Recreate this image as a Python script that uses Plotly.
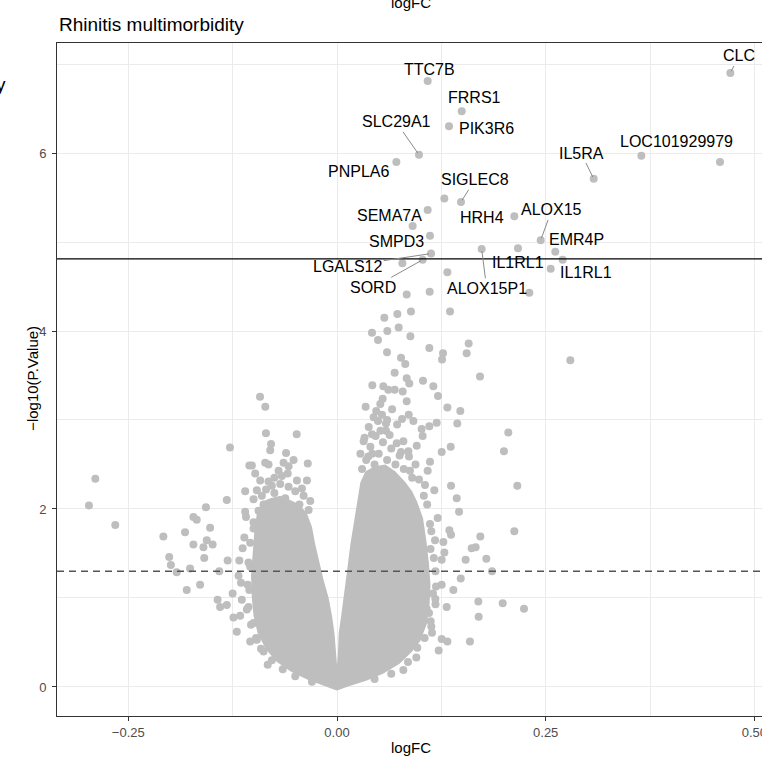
import plotly.graph_objects as go

GREY = "#BEBEBE"
FONT = "Liberation Sans, Arial, Helvetica, sans-serif"

# ---- dense core of the volcano (outline of the solid grey cloud) ----
core_logfc = [-0.080, -0.068, -0.056, -0.045, -0.036, -0.030, -0.026, -0.021, -0.016, -0.010,
              -0.006, -0.003, -0.001, 0.000, 0.001, 0.002, 0.005, 0.008, 0.012, 0.016,
              0.020, 0.024, 0.028, 0.034, 0.045, 0.058, 0.070, 0.082, 0.090,
              0.096, 0.103, 0.107, 0.110, 0.112, 0.111, 0.108, 0.100, 0.090, 0.075,
              0.055, 0.035, 0.015, 0.003, 0.000, -0.003, -0.015, -0.035, -0.055, -0.072,
              -0.085, -0.095, -0.100, -0.102, -0.103, -0.101, -0.099, -0.096, -0.090]
core_neglogp = [2.12, 2.15, 2.10, 2.05, 1.95, 1.80, 1.60, 1.40, 1.20, 1.00,
                0.80, 0.60, 0.40, 0.25, 0.35, 0.60, 0.80, 1.00, 1.30, 1.60,
                1.85, 2.10, 2.30, 2.42, 2.48, 2.50, 2.42, 2.30, 2.20,
                2.08, 1.90, 1.65, 1.40, 1.15, 0.95, 0.72, 0.52, 0.40, 0.26,
                0.15, 0.07, 0.01, -0.03, -0.04, -0.03, 0.01, 0.08, 0.17, 0.28,
                0.42, 0.60, 0.80, 1.00, 1.25, 1.50, 1.75, 1.95, 2.08]

# ---- individual (non-labelled) genes ----
bg_logfc = [
    -0.0922, -0.0859, -0.1282, -0.0851, -0.0483, -0.0790, -0.2895, -0.2971, -0.2656, -0.1570,
    -0.1320, -0.1720, -0.1680, -0.1520, -0.1820, -0.2080, -0.1560, -0.1720, -0.1490, -0.1600,
    -0.2010, -0.1590, -0.1990, -0.1920, -0.1760, -0.1310, -0.1410, -0.1800, -0.1640, -0.1250,
    -0.1430, -0.1400, -0.1320, -0.1240, -0.1160, -0.1200, -0.1040, -0.0960, -0.0830, -0.1100,
    -0.1050, -0.1020, -0.0980, -0.0920, -0.0860, -0.0820, -0.0800, -0.0610, -0.0520, -0.0640,
    -0.0580, -0.0590, -0.0700, -0.0350, -0.0360, -0.0420, -0.0320, -0.0340, -0.0580, -0.0820,
    -0.0960, -0.1000, -0.1100, -0.1090, -0.1000, -0.1110, -0.1130, -0.1170, -0.1180, -0.1150,
    -0.1050, -0.1040, -0.1080, -0.1140, -0.1000, -0.0910,
    -0.0900, -0.0850, -0.0750, -0.0680, -0.0620, -0.0500, -0.0450, -0.0400, -0.0750, -0.0880,
    -0.0940, -0.0480, -0.0660, -0.0780,
    -0.0880, -0.0780, -0.0650, -0.0500, -0.0300, -0.0970, -0.1030, -0.1060, -0.1070, -0.1060,
    -0.1040, -0.1000,
    0.0567, 0.0723, 0.0886, 0.1354, 0.0419, 0.0603, 0.0739, 0.0491, 0.0879, 0.1577,
    0.1553, 0.1106, 0.1270, 0.1258, 0.0599, 0.0767, 0.0818, 0.1713, 0.2795, 0.0691,
    0.0835, 0.0866, 0.1030, 0.1154, 0.1210, 0.0423, 0.0555, 0.0615, 0.0691, 0.0787,
    0.0547, 0.0519, 0.0835, 0.0343, 0.1322, 0.1477, 0.0439, 0.0539, 0.0859, 0.0779,
    0.0915, 0.0587, 0.1106, 0.1194, 0.1441, 0.0491, 0.0587, 0.1014, 0.1026, 0.2052,
    0.2000, 0.0319, 0.0419, 0.0463, 0.0715, 0.0795, 0.0955, 0.1362, 0.1254, 0.0375,
    0.0423, 0.0767, 0.0855, 0.0862, 0.1114, 0.1086, 0.0874, 0.0982, 0.1054, 0.1166,
    0.1366, 0.2160, 0.1434, 0.1462, 0.1206, 0.1114, 0.2124, 0.1717, 0.1346, 0.1366,
    0.1274, 0.1174, 0.1286, 0.1254, 0.1613, 0.1661, 0.1541, 0.1789, 0.1857, 0.1482,
    0.1394, 0.1254, 0.1178, 0.1314, 0.1693, 0.1697, 0.1985, 0.2240, 0.1138, 0.1254,
    0.1322, 0.1218, 0.1593, 0.0962, 0.0795, 0.1122, 0.1102, 0.1074, 0.1186,
    0.0835, 0.1110, 0.1322, 0.0783, 0.2304, 0.1286, 0.0906, 0.2703, 0.4588,
    0.0300, 0.0350, 0.0400, 0.0450, 0.0500, 0.0550, 0.0600, 0.0650, 0.0700, 0.0750,
    0.0800, 0.0520, 0.0630, 0.0380, 0.0470, 0.0660, 0.0720, 0.0280, 0.0330, 0.0900,
    0.0940, 0.0600,
    0.1130, 0.1160, 0.1180, 0.1150, 0.1130, 0.1050, 0.0950, 0.0850, 0.0650, 0.0450,
    0.1080, 0.1040, 0.1120, 0.1180,
]
bg_neglogp = [
    3.26, 3.15, 2.69, 2.85, 2.84, 2.73, 2.34, 2.04, 1.82, 2.02,
    2.10, 1.91, 1.88, 1.79, 1.74, 1.69, 1.65, 1.60, 1.60, 1.57,
    1.46, 1.45, 1.37, 1.29, 1.33, 1.42, 1.30, 1.09, 1.15, 1.05,
    0.98, 0.90, 0.92, 0.78, 0.80, 0.62, 0.51, 0.53, 0.25, 2.20,
    2.49, 2.49, 2.40, 2.32, 2.52, 2.50, 2.66, 2.63, 2.55, 2.52,
    2.48, 2.40, 2.43, 2.51, 2.32, 2.23, 2.09, 1.99, 2.25, 2.31,
    2.21, 2.11, 1.97, 1.91, 1.78, 1.68, 1.56, 1.42, 1.25, 1.17,
    1.09, 1.35, 0.87, 0.98, 0.72, 0.43,
    2.15, 2.22, 2.18, 2.28, 2.12, 2.20, 2.05, 2.15, 2.35, 2.05,
    1.98, 2.32, 2.37, 2.26,
    0.40, 0.30, 0.20, 0.12, 0.06, 0.55, 0.70, 0.90, 1.15, 1.40,
    1.62, 1.85,
    4.15, 4.19, 4.22, 4.22, 3.98, 4.00, 4.04, 3.90, 3.94, 3.86,
    3.75, 3.81, 3.75, 3.68, 3.76, 3.70, 3.63, 3.49, 3.67, 3.53,
    3.47, 3.41, 3.44, 3.38, 3.27, 3.39, 3.38, 3.34, 3.34, 3.32,
    3.24, 3.18, 3.21, 3.15, 3.14, 3.10, 3.03, 3.06, 3.06, 3.01,
    2.99, 2.96, 2.93, 2.97, 2.96, 2.99, 2.88, 2.90, 2.82, 2.86,
    2.65, 2.76, 2.84, 2.82, 2.74, 2.76, 2.71, 2.70, 2.64, 2.59,
    2.62, 2.64, 2.65, 2.59, 2.53, 2.43, 2.43, 2.33, 2.27, 2.21,
    2.26, 2.26, 2.12, 1.97, 1.90, 1.83, 1.75, 1.69, 1.76, 1.71,
    1.63, 1.65, 1.51, 1.43, 1.56, 1.57, 1.43, 1.44, 1.30, 1.22,
    1.09, 1.15, 0.99, 0.90, 0.96, 0.79, 0.94, 0.88, 0.61, 0.54,
    0.51, 0.41, 0.51, 0.44, 0.19, 0.74, 0.83, 0.88, 1.13,
    4.41, 4.44, 4.66, 4.76, 4.43, 5.49, 5.18, 4.80, 5.90,
    2.45, 2.55, 2.70, 2.50, 2.62, 2.75, 2.55, 2.68, 2.50, 2.60,
    2.45, 2.88, 2.83, 2.92, 3.10, 3.12, 2.95, 2.62, 2.80, 2.35,
    2.50, 3.00,
    1.75, 1.45, 1.30, 1.05, 0.68, 0.55, 0.33, 0.28, 0.15, 0.09,
    2.05, 2.15, 1.55, 0.93,
]

# ---- labelled genes ----
gene_names = ["TTC7B", "CLC", "FRRS1", "PIK3R6", "SLC29A1", "LOC101929979", "IL5RA", "PNPLA6",
              "SIGLEC8", "ALOX15", "SEMA7A", "HRH4", "EMR4P", "SMPD3", "LGALS12", "IL1RL1",
              "IL1RL1", "SORD", "ALOX15P1"]
gene_logfc = [0.1086, 0.4712, 0.1494, 0.1342, 0.0982, 0.3646, 0.3075, 0.0711,
              0.1485, 0.2440, 0.1086, 0.2124, 0.2615, 0.1114, 0.1126, 0.2168,
              0.2560, 0.1026, 0.1733]
gene_neglogp = [6.81, 6.90, 6.47, 6.30, 5.98, 5.97, 5.71, 5.90,
                5.45, 5.02, 5.36, 5.29, 4.89, 5.07, 4.87, 4.93,
                4.70, 4.80, 4.92]
label_logfc = [0.1114, 0.4817, 0.1653, 0.1793, 0.0707, 0.4069, 0.2923, 0.0255,
               0.1653, 0.2572, 0.0627, 0.1733, 0.2863, 0.0715, 0.0128, 0.2168,
               0.2983, 0.0435, 0.1793]
label_neglogp = [6.94, 7.09, 6.62, 6.28, 6.35, 6.13, 6.00, 5.79,
                 5.70, 5.36, 5.30, 5.27, 5.03, 5.01, 4.73, 4.77,
                 4.66, 4.49, 4.48]
label_segment = [False, True, False, False, True, False, True, False,
                 True, True, False, False, False, False, True, False,
                 False, True, True]

# thresholds
fdr_line = 4.81
p_line = 1.30

fig = go.Figure()
fig.add_trace(go.Scatter(x=core_logfc, y=core_neglogp, mode="lines", fill="toself",
                         fillcolor=GREY, line=dict(width=0, color=GREY), hoverinfo="skip",
                         showlegend=False))
fig.add_trace(go.Scatter(x=bg_logfc, y=bg_neglogp, mode="markers",
                         marker=dict(size=8, color=GREY, line=dict(width=0)), showlegend=False))
fig.add_trace(go.Scatter(x=gene_logfc, y=gene_neglogp, mode="markers",
                         marker=dict(size=8, color=GREY, line=dict(width=0)), showlegend=False))

fig.add_shape(type="line", xref="paper", x0=0, x1=1, yref="y", y0=fdr_line, y1=fdr_line,
              line=dict(color="black", width=1.4), layer="above")
fig.add_shape(type="line", xref="paper", x0=0, x1=1, yref="y", y0=p_line, y1=p_line,
              line=dict(color="#555555", width=1.4, dash="7px,5px"), layer="above")

annotations = []
for name, px, py, lx, ly, seg in zip(gene_names, gene_logfc, gene_neglogp,
                                     label_logfc, label_neglogp, label_segment):
    if seg:
        annotations.append(dict(x=px, y=py, xref="x", yref="y", ax=lx, ay=ly, axref="x", ayref="y",
                                text=name, showarrow=True, arrowhead=0, arrowwidth=1,
                                arrowcolor="#8A8A8A", standoff=2,
                                font=dict(size=16, color="black", family=FONT)))
    else:
        annotations.append(dict(x=lx, y=ly, xref="x", yref="y", text=name, showarrow=False,
                                font=dict(size=16, color="black", family=FONT)))

annotations += [
    dict(text="Rhinitis multimorbidity", x=0, xref="paper", xanchor="left", y=1.0282,
         yref="paper", yanchor="middle", showarrow=False, font=dict(size=19, color="black", family=FONT)),
    dict(text="logFC", x=0.502, xref="paper", xanchor="center", y=-0.0475, yref="paper",
         yanchor="middle", showarrow=False, font=dict(size=15, color="black", family=FONT)),
    dict(text="−log10(P.Value)", x=-0.0359, xref="paper", xanchor="center", y=0.502,
         yref="paper", yanchor="middle", textangle=-90, showarrow=False,
         font=dict(size=15, color="black", family=FONT)),
    dict(text="logFC", x=0.502, xref="paper", xanchor="center", y=1.0446, yref="paper",
         yanchor="bottom", showarrow=False, font=dict(size=15, color="black", family=FONT)),
    dict(text="y", x=-0.0794, xref="paper", xanchor="center", y=0.939, yref="paper",
         yanchor="middle", showarrow=False, font=dict(size=19, color="black", family=FONT)),
]

axis_common = dict(showgrid=True, gridcolor="#EBEBEB", gridwidth=1.1, zeroline=False,
                   showline=True, linecolor="#333333", linewidth=1, ticks="outside",
                   ticklen=4, tickcolor="#333333", tickwidth=1, ticklabeloverflow="allow",
                   tickfont=dict(size=13, color="#4D4D4D", family=FONT), automargin=False)

fig.update_layout(
    width=762, height=761,
    margin=dict(l=57, r=0, t=43, b=45, autoexpand=False),
    paper_bgcolor="white", plot_bgcolor="white",
    font=dict(family=FONT),
    showlegend=False,
    annotations=annotations,
    xaxis=dict(range=[-0.3354, 0.5091], tick0=0, dtick=0.25, tickformat=".2f", mirror=True,
               minor=dict(dtick=0.125, tick0=0, showgrid=True, gridcolor="#EBEBEB",
                          gridwidth=0.55, ticks=""),
               **axis_common),
    yaxis=dict(range=[-0.326, 7.236], tick0=0, dtick=2, mirror=False, ticklabelstandoff=3,
               minor=dict(dtick=1, tick0=0, showgrid=True, gridcolor="#EBEBEB",
                          gridwidth=0.55, ticks=""),
               **axis_common),
)

fig.write_html("out.html", config={"displayModeBar": False},
               post_script="document.body.style.margin='0px';document.body.style.overflow='hidden';")
